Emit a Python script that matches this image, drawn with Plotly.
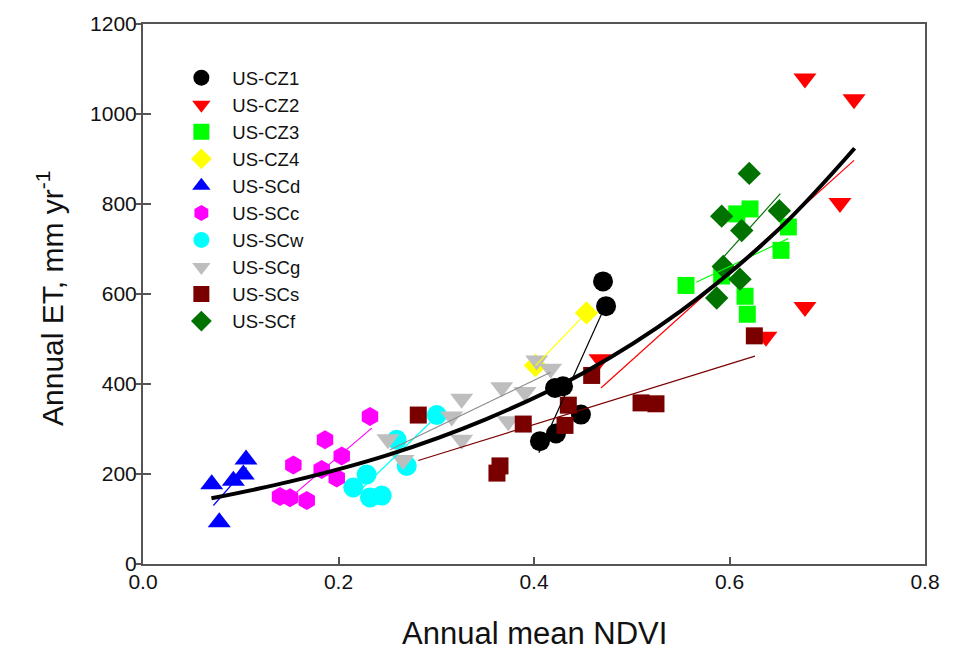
import plotly.graph_objects as go

# ---------------- data ----------------
sites = ["US-CZ1", "US-CZ2", "US-CZ3", "US-CZ4", "US-SCd",
         "US-SCc", "US-SCw", "US-SCg", "US-SCs", "US-SCf"]

cz1_x = [0.4706, 0.4737, 0.4215, 0.4297, 0.4480, 0.4061, 0.4225]
cz1_y = [628, 573, 391, 395, 332, 273, 290]

cz2_x = [0.6772, 0.7274, 0.7130, 0.6772, 0.6373, 0.4675]
cz2_y = [1079, 1033, 802, 571, 505, 455]

cz3_x = [0.5555, 0.5920, 0.6074, 0.6210, 0.6602, 0.6527, 0.6159, 0.6182]
cz3_y = [619, 640, 778, 789, 749, 697, 595, 555]

cz4_x = [0.4537, 0.4015]
cz4_y = [558, 441]

scd_x = [0.0703, 0.0924, 0.1026, 0.1054, 0.0780]
scd_y = [177, 185, 199, 232, 93]

scc_x = [0.2322, 0.1862, 0.1538, 0.2033, 0.1828, 0.1982, 0.1402, 0.1504, 0.1675]
scc_y = [328, 276, 220, 240, 210, 191, 150, 147, 141]

scw_x = [0.3005, 0.2595, 0.2698, 0.2288, 0.2151, 0.2322, 0.2442]
scw_y = [331, 276, 218, 199, 170, 148, 152]

scg_x = [0.2506, 0.2660, 0.3158, 0.3260, 0.3260, 0.3670, 0.3908, 0.3737, 0.4028, 0.4170]
scg_y = [277, 231, 328, 367, 276, 393, 382, 317, 452, 434]

scs_x = [0.2816, 0.3652, 0.3621, 0.3890, 0.4351, 0.4317, 0.4590, 0.5095, 0.5248, 0.6254]
scs_y = [331, 218, 202, 311, 353, 308, 419, 358, 356, 507]

scf_x = [0.6202, 0.5920, 0.6125, 0.6510, 0.5936, 0.6107, 0.5869]
scf_y = [868, 773, 741, 785, 661, 633, 591]

# per-site fitted lines (end points)
fit_x0 = [0.405, 0.4685, 0.566, 0.4015, 0.072, 0.153, 0.215, 0.2527, 0.2816, 0.593]
fit_y0 = [247, 391, 626, 441, 130, 152, 149, 254, 230, 680]
fit_x1 = [0.469, 0.7274, 0.660, 0.4537, 0.106, 0.234, 0.297, 0.417, 0.626, 0.652]
fit_y1 = [555, 897, 723, 558, 214, 302, 321, 426, 462, 823]

# overall fitted curve
curve_x = [0.070, 0.150, 0.250, 0.350, 0.450, 0.550, 0.650, 0.728]
curve_y = [146, 183, 242, 321, 424, 562, 743, 924]

x_ticks = [0.0, 0.2, 0.4, 0.6, 0.8]
y_ticks = [0, 200, 400, 600, 800, 1000, 1200]

# ---------------- styles ----------------
xs = [cz1_x, cz2_x, cz3_x, cz4_x, scd_x, scc_x, scw_x, scg_x, scs_x, scf_x]
ys = [cz1_y, cz2_y, cz3_y, cz4_y, scd_y, scc_y, scw_y, scg_y, scs_y, scf_y]
colors = ["#000000", "#FF0000", "#00FF00", "#FFFF00", "#0000FF",
          "#FF00FF", "#00FFFF", "#BEBEBE", "#7A0000", "#007200"]
line_colors = ["#000000", "#FF0000", "#00FF00", "#FFFF00", "#0000FF",
               "#FF00FF", "#00FFFF", "#8C8C8C", "#7A0000", "#007200"]
symbols = ["circle", "triangle-down", "square", "diamond", "triangle-up",
           "hexagon", "circle", "triangle-down", "square", "diamond"]
sizes = [20, 20, 17, 18, 20, 19, 20, 20, 17, 18]

FONT = "Liberation Sans, Arial, sans-serif"

fig = go.Figure()

for i, name in enumerate(sites):
    fig.add_trace(go.Scatter(
        x=xs[i], y=ys[i], mode="markers", name=name,
        marker=dict(symbol=symbols[i], color=colors[i], size=sizes[i],
                    line=dict(width=0)),
        hoverinfo="x+y+name",
    ))

for i, name in enumerate(sites):
    fig.add_trace(go.Scatter(
        x=[fit_x0[i], fit_x1[i]], y=[fit_y0[i], fit_y1[i]],
        mode="lines", showlegend=False,
        line=dict(color=line_colors[i], width=1.2),
        hoverinfo="skip",
    ))

fig.add_trace(go.Scatter(
    x=curve_x, y=curve_y, mode="lines", showlegend=False,
    line=dict(color="black", width=4, shape="spline"),
    hoverinfo="skip",
))

axis_common = dict(
    showgrid=False, zeroline=False,
    showline=True, linecolor="#555555", linewidth=2, mirror=True,
    tickcolor="#555555", tickwidth=1.5,
    tickfont=dict(family=FONT, size=21, color="#111111"),
)

plot_w = 961 - 143 - 36
plot_h = 652 - 18 - 88

fig.update_layout(
    width=961, height=652,
    margin=dict(l=143, r=36, t=18, b=88),
    paper_bgcolor="white", plot_bgcolor="white",
    font=dict(family=FONT, color="#111111"),
    xaxis=dict(range=[0, 0.8], tickvals=x_ticks,
               ticktext=[f"{v:.1f}" for v in x_ticks],
               ticks="inside", ticklen=7, ticklabelstandoff=-2, **axis_common),
    yaxis=dict(range=[0, 1200], tickvals=y_ticks,
               ticktext=[str(v) for v in y_ticks],
               ticks="inside", ticklen=8, **axis_common),
    yaxis2=dict(range=[0, 1200], tickvals=y_ticks, overlaying="y",
                side="left", showticklabels=False, ticks="outside",
                ticklen=6, tickcolor="#555555", tickwidth=1.5,
                showgrid=False, zeroline=False, showline=False),
    legend=dict(x=0.035, y=0.935, xanchor="left", yanchor="top",
                bgcolor="rgba(0,0,0,0)", tracegroupgap=0, itemwidth=52,
                font=dict(family=FONT, size=18.5, color="#111111"),
                itemsizing="trace"),
    annotations=[
        dict(text="Annual mean NDVI", xref="paper", yref="paper",
             x=(534 - 143) / plot_w, y=(564 - 634) / plot_h,
             xanchor="center", yanchor="middle", showarrow=False,
             font=dict(family=FONT, size=31, color="#111111")),
        dict(text="Annual ET, mm yr<sup>-1</sup>", xref="paper", yref="paper",
             x=(50 - 143) / plot_w, y=(564 - 296) / plot_h,
             xanchor="center", yanchor="middle", showarrow=False,
             textangle=-90,
             font=dict(family=FONT, size=30, color="#111111")),
    ],
)

# invisible trace that activates yaxis2 for the outward y ticks
fig.add_trace(go.Scatter(x=[None], y=[None], yaxis="y2", showlegend=False,
                         hoverinfo="skip"))

fig.write_html("out.html")
